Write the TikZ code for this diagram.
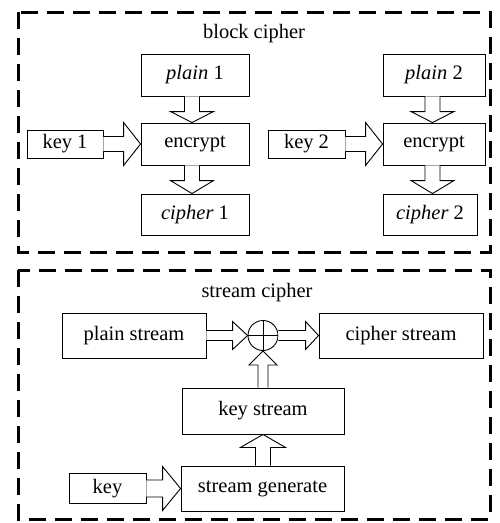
\documentclass[tikz,border=0pt]{standalone}
\usepackage{fontspec}
\setmainfont{Liberation Serif}
\usetikzlibrary{calc}

% fat hollow arrow: from, to, half shaft, half head, head length
\newcommand{\fatarrow}[5]{%
	\coordinate (fa-h) at ($(#2)!#5!(#1)$);
	\draw[line width=.9pt, fill=white, line join=miter]
		($(#1)!#3!90:(#2)$) -- ($(fa-h)!#3!90:(#2)$) -- ($(fa-h)!#4!90:(#2)$) -- (#2)
		-- ($(fa-h)!#4!-90:(#2)$) -- ($(fa-h)!#3!-90:(#2)$) -- ($(#1)!#3!-90:(#2)$);
}

\begin{document}
\begin{tikzpicture}[x=1pt, y=-1pt,
		box/.style={draw, line width=.9pt, inner sep=0pt},
		frame/.style={line width=3pt, dash pattern=on 17pt off 9pt}]
	\fontsize{20.5}{24}\selectfont
	\useasboundingbox (0,0) rectangle (499,523);

	% block cipher
	\draw[frame] (18,12) rectangle (490,252);
	\node (blocktitle) at (254,33.5) {block cipher};
	\node[box, minimum width=108pt, minimum height=42pt] (plain1) at (195,75) {\textit{plain} 1};
	\node[box, minimum width=108pt, minimum height=42pt] (enc1) at (195,144) {encrypt};
	\node[box, minimum width=108pt, minimum height=41pt] (cipher1) at (195,214.5) {\textit{cipher} 1};
	\node[box, minimum width=76pt, minimum height=28pt] (key1) at (65,144) {key 1};
	\node[box, minimum width=102pt, minimum height=42pt] (plain2) at (434,75) {\textit{plain} 2};
	\node[box, minimum width=102pt, minimum height=42pt] (enc2) at (434,144) {encrypt};
	\node[box, minimum width=94pt, minimum height=41pt] (cipher2) at (430,214.5) {\textit{cipher} 2};
	\node[box, minimum width=77pt, minimum height=28pt] (key2) at (306.5,144) {key 2};

	\coordinate (p1s) at ([xshift=-3pt]plain1.south);
	\coordinate (e1n) at ([xshift=-3pt]enc1.north);
	\coordinate (e1s) at ([xshift=-3pt]enc1.south);
	\coordinate (c1n) at ([xshift=-3pt]cipher1.north);
	\coordinate (p2s) at ([xshift=-1.5pt]plain2.south);
	\coordinate (e2n) at ([xshift=-1.5pt]enc2.north);
	\coordinate (e2s) at ([xshift=-1.5pt]enc2.south);
	\coordinate (c2n) at (e2s |- cipher2.north);
	\fatarrow{p1s}{e1n}{7.5pt}{21.5pt}{11pt}
	\fatarrow{e1s}{c1n}{7.5pt}{21.5pt}{13pt}
	\fatarrow{key1.east}{enc1.west}{7.5pt}{21.5pt}{17pt}
	\fatarrow{p2s}{e2n}{7.5pt}{21.5pt}{11pt}
	\fatarrow{e2s}{c2n}{7.5pt}{21.5pt}{13pt}
	\fatarrow{key2.east}{enc2.west}{7.5pt}{21.5pt}{17pt}

	% stream cipher
	\draw[frame] (18,270) rectangle (490,519);
	\node (streamtitle) at (257,292.5) {stream cipher};
	\node[box, minimum width=144pt, minimum height=45pt] (plainS) at (134,335.5) {plain stream};
	\node[box, minimum width=164pt, minimum height=45pt] (cipherS) at (401,335.5) {cipher stream};
	\node[draw, circle, line width=.9pt, minimum size=30pt, inner sep=0pt] (xor) at (263,335.5) {};
	\draw[line width=.9pt] (xor.north) -- (xor.south) (xor.west) -- (xor.east);
	\node[box, minimum width=162pt, minimum height=46pt] (keyS) at (263,411) {key stream};
	\node[box, minimum width=163pt, minimum height=45pt] (gen) at (262.5,488.5) {stream generate};
	\node[box, minimum width=77pt, minimum height=30pt] (key) at (107.5,488.5) {key};

	\coordinate (gn) at (keyS.south |- gen.north);
	\fatarrow{plainS.east}{xor.west}{5pt}{14pt}{15pt}
	\fatarrow{xor.east}{cipherS.west}{5pt}{14pt}{13pt}
	\fatarrow{keyS.north}{xor.south}{5pt}{14pt}{14pt}
	\fatarrow{gn}{keyS.south}{7.5pt}{22.5pt}{13pt}
	\fatarrow{key.east}{gen.west}{8.5pt}{22pt}{18pt}
\end{tikzpicture}
\end{document}
